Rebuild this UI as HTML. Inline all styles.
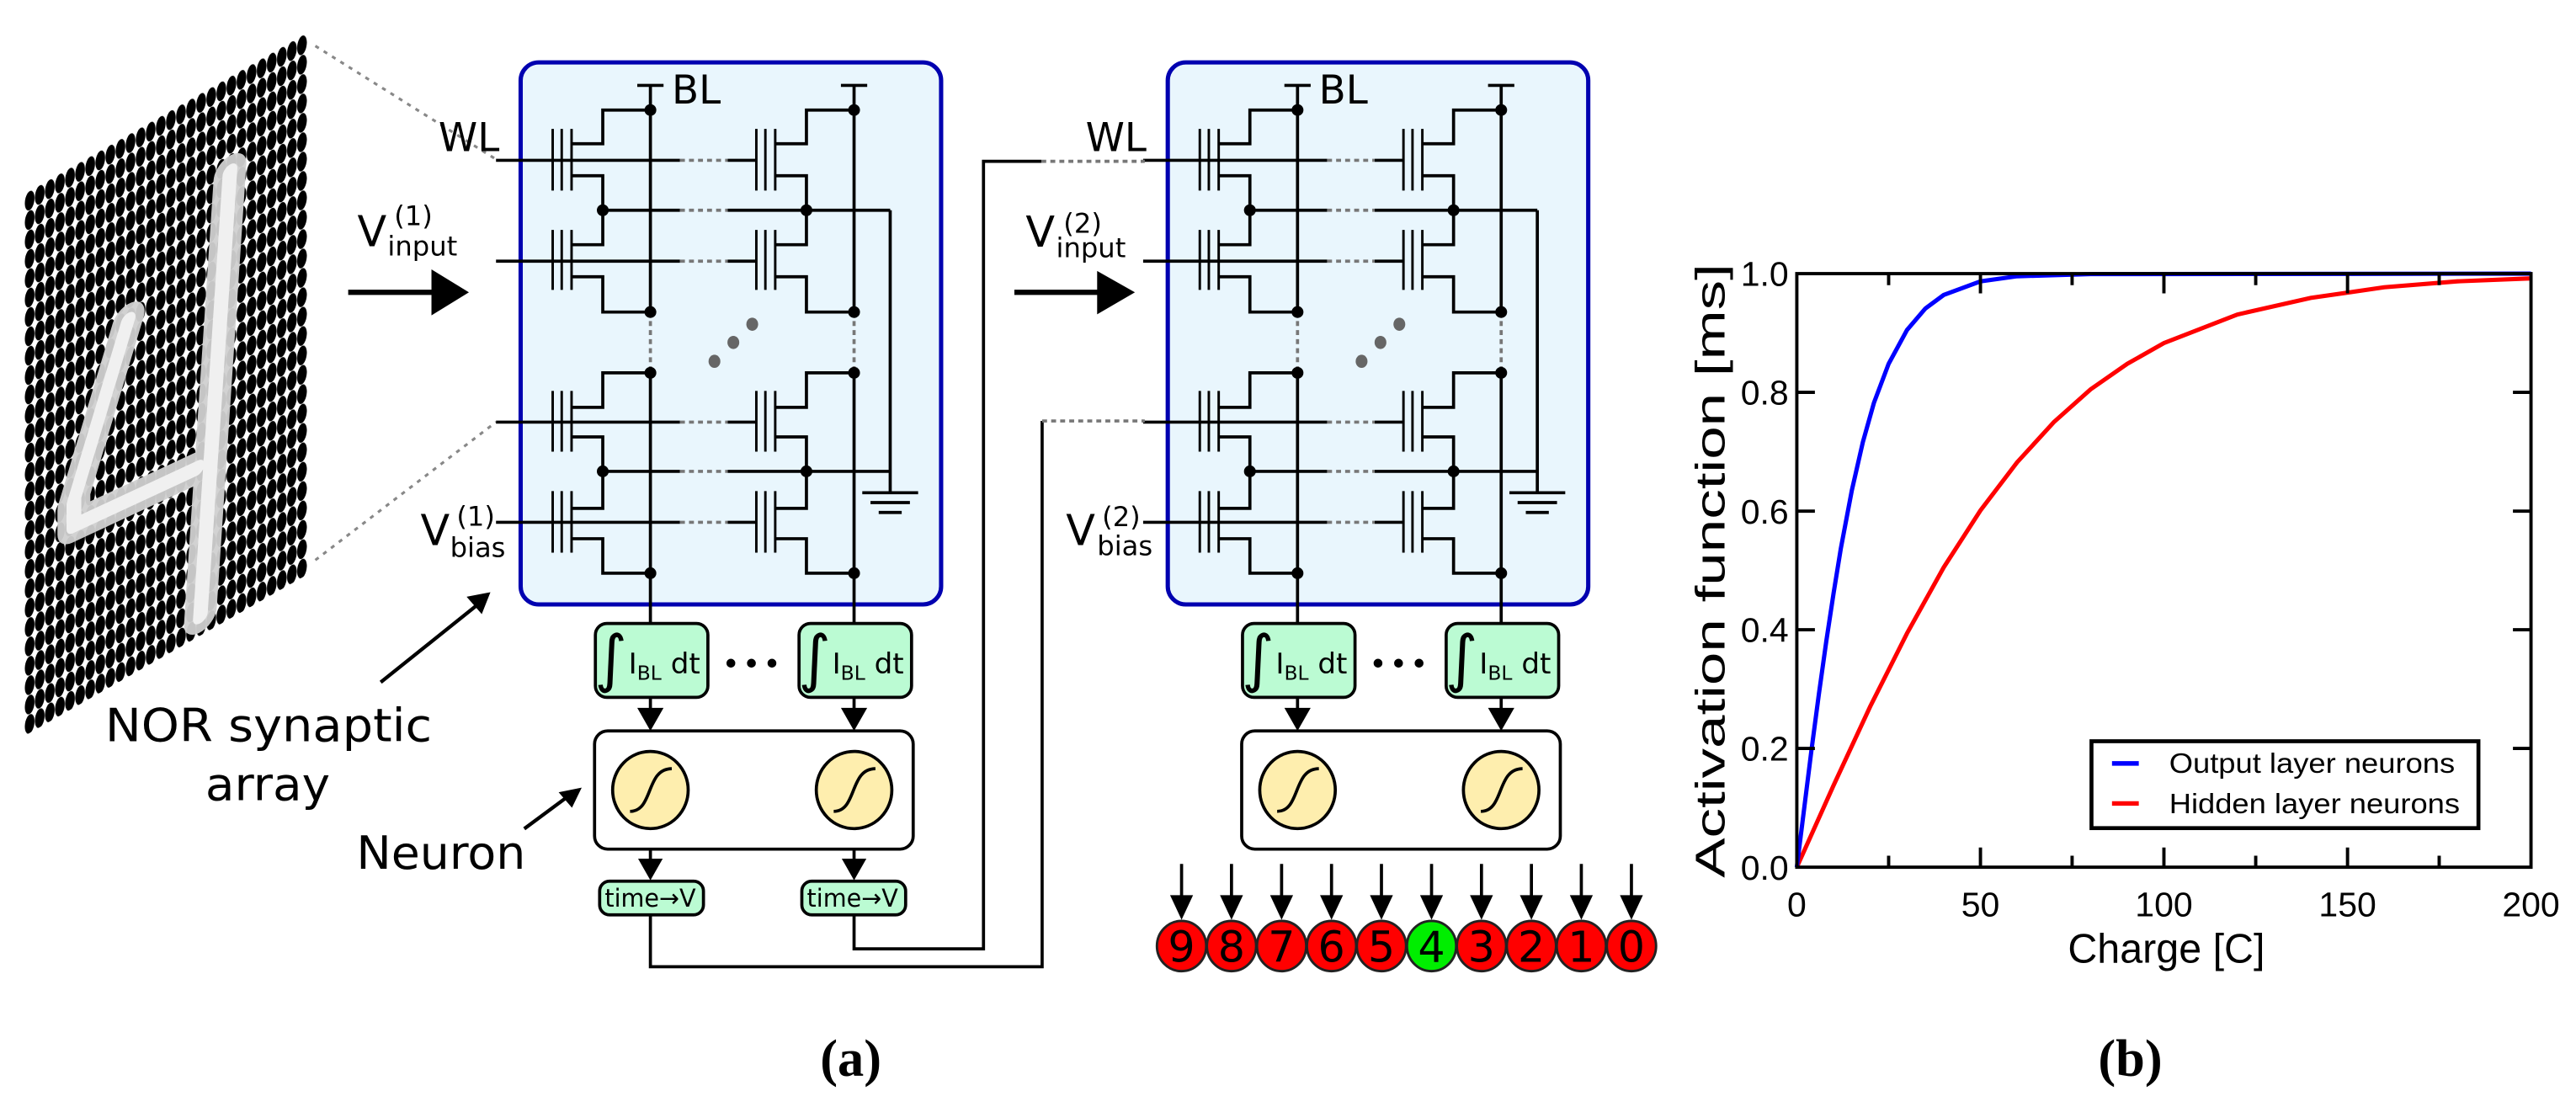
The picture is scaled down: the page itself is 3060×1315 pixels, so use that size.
<!DOCTYPE html>
<html><head><meta charset="utf-8"><style>
html,body{margin:0;padding:0;background:#fff;}
svg{display:block;}
</style></head><body>
<svg xmlns="http://www.w3.org/2000/svg" xmlns:xlink="http://www.w3.org/1999/xlink" width="3060" height="1315" viewBox="0 0 1568.4 674" preserveAspectRatio="none" font-family="'DejaVu Sans','Liberation Sans',sans-serif">
<defs>
<pattern id="px" patternUnits="userSpaceOnUse" width="6.14" height="11.8">
<ellipse cx="3.07" cy="5.9" rx="2.95" ry="5.75" fill="#000"/>
</pattern>
<g id="col">
<path d="M336.5,78.5V116M342,78.5V116M348,78.5V116M336.5,140V176.5M342,140V176.5M348,140V176.5M336.5,238V275M342,238V275M348,238V275M336.5,299V336.5M342,299V336.5M348,299V336.5" stroke="#000" stroke-width="1.5" fill="none"/>
<path d="M348,87.5H367V67H396M348,107H367V128M348,149H367V128M348,168.5H367V190H396M348,248H367V227H396M348,266H367V287M348,309.5H367V287M348,328H367V349H396M388,52H404M396,52V190M396,227V379.6" stroke="#000" stroke-width="1.9" fill="none"/>
<path d="M396,190V227" stroke="#777" stroke-width="1.9" stroke-dasharray="3,2.5" fill="none"/>
<g fill="#000"><circle cx="396" cy="67" r="3.6"/><circle cx="396" cy="190" r="3.6"/><circle cx="396" cy="227" r="3.6"/><circle cx="396" cy="349" r="3.6"/><circle cx="367" cy="128" r="3.6"/><circle cx="367" cy="287" r="3.6"/></g>
</g>
<g id="arr">
<rect x="317" y="38" width="256" height="330" rx="11" fill="#e9f6fd" stroke="#0000b0" stroke-width="2.6"/>
<use xlink:href="#col"/>
<use xlink:href="#col" x="124"/>
<path d="M302,97.6H414M443,97.6H460.5M302,159H414M443,159H460.5M302,257H414M443,257H460.5M302,318H414M443,318H460.5M367,128H414M443,128H542M367,287H414M443,287H542M542,128V300M525,300H559M530,306H554M535,312H549" stroke="#000" stroke-width="1.9" fill="none"/>
<path d="M414,97.6H443M414,159H443M414,257H443M414,318H443M414,128H443M414,287H443" stroke="#777" stroke-width="1.9" stroke-dasharray="3,2.5" fill="none"/>
<g fill="#666"><ellipse cx="435" cy="220" rx="3.6" ry="4"/><ellipse cx="446.5" cy="208.5" rx="3.6" ry="4"/><ellipse cx="458" cy="197.4" rx="3.6" ry="4"/></g>
<rect x="362.5" y="379.6" width="68.5" height="45" rx="7" fill="#bbfbd3" stroke="#000" stroke-width="1.9"/>
<rect x="486.5" y="379.6" width="68.5" height="45" rx="7" fill="#bbfbd3" stroke="#000" stroke-width="1.9"/>
<text x="362" y="414" font-size="38">∫</text>
<text x="382.7" y="410" font-size="17.5">I<tspan font-size="12" dy="4">BL</tspan><tspan dy="-4"> dt</tspan></text>
<text x="486" y="414" font-size="38">∫</text>
<text x="506.7" y="410" font-size="17.5">I<tspan font-size="12" dy="4">BL</tspan><tspan dy="-4"> dt</tspan></text>
<g fill="#000"><circle cx="445" cy="403.8" r="2.7"/><circle cx="457.5" cy="403.8" r="2.7"/><circle cx="470" cy="403.8" r="2.7"/><circle cx="445" cy="481" r="2.7"/><circle cx="457.5" cy="481" r="2.7"/><circle cx="470" cy="481" r="2.7"/></g>
<path d="M396,424.6V433M520,424.6V433" stroke="#000" stroke-width="1.9"/>
<path d="M388,431L404,431L396,445ZM512,431L528,431L520,445Z" fill="#000"/>
<rect x="362" y="445" width="194" height="72" rx="8" fill="#fff" stroke="#000" stroke-width="1.9"/>
<ellipse cx="396" cy="481" rx="23" ry="23.5" fill="#feeeae" stroke="#000" stroke-width="1.9"/>
<ellipse cx="520" cy="481" rx="23" ry="23.5" fill="#feeeae" stroke="#000" stroke-width="1.9"/>
<path d="M383.6,494C398,494 393,468 409,468M507.6,494C522,494 517,468 533,468" stroke="#000" stroke-width="1.9" fill="none"/>
</g>
</defs>

<g transform="translate(15,118) skewY(-29.7)">
<rect x="0" y="0" width="172" height="330" fill="url(#px)"/>
<path d="M63,113L30,204L30,219L105,227M125,58L107,318" stroke="#d0d0d0" stroke-width="20" fill="none" stroke-linecap="round" stroke-linejoin="round" opacity="0.95"/>
<path d="M63,113L30,204L30,219L105,227M125,58L107,318" stroke="#f0f0f0" stroke-width="9" fill="none" stroke-linecap="round" stroke-linejoin="round"/>
</g>
<path d="M192,28L302,97M192,341L302,257" stroke="#888" stroke-width="1.6" stroke-dasharray="2.5,3.5" fill="none"/>

<use xlink:href="#arr"/>
<use xlink:href="#arr" x="394"/>

<text x="409" y="63" font-size="24">BL</text>
<text x="267" y="92" font-size="24">WL</text>
<text x="217.6" y="150" font-size="26">V</text>
<text x="240" y="137" font-size="16.5">(1)</text>
<text x="236" y="155.5" font-size="16.5">input</text>
<path d="M212,178H264" stroke="#000" stroke-width="3.2"/>
<path d="M262.7,164L285.5,178L262.7,192Z" fill="#000"/>
<text x="256" y="332" font-size="26">V</text>
<text x="278" y="320" font-size="16.5">(1)</text>
<text x="274" y="339" font-size="16.5">bias</text>

<text x="803" y="63" font-size="24">BL</text>
<text x="661" y="92" font-size="24">WL</text>
<text x="624.5" y="150.3" font-size="26">V</text>
<text x="647.5" y="141.6" font-size="16.5">(2)</text>
<text x="643" y="156.5" font-size="16.5">input</text>
<path d="M617.6,178H669" stroke="#000" stroke-width="3.2"/>
<path d="M668,165L691,178L668,191.4Z" fill="#000"/>
<text x="649" y="332" font-size="26">V</text>
<text x="671" y="320.4" font-size="16.5">(2)</text>
<text x="668" y="338" font-size="16.5">bias</text>

<text x="64" y="451.4" font-size="28" textLength="199" lengthAdjust="spacingAndGlyphs">NOR synaptic</text>
<text x="125" y="487.3" font-size="28" textLength="76" lengthAdjust="spacingAndGlyphs">array</text>
<text x="217" y="529" font-size="28" textLength="103" lengthAdjust="spacingAndGlyphs">Neuron</text>
<path d="M231.8,415.4L291,368M319.2,504.6L347,484" stroke="#000" stroke-width="2.2"/>
<path d="M297,361.9L286,364L293,372Z" fill="#000" stroke="#000" stroke-width="2"/>
<path d="M352.4,480.9L342,483L348,490Z" fill="#000" stroke="#000" stroke-width="2"/>

<path d="M396,517V524M520,517V524" stroke="#000" stroke-width="1.9"/>
<path d="M388.5,522.8L403.5,522.8L396,536ZM512.5,522.8L527.5,522.8L520,536Z" fill="#000"/>
<rect x="365.1" y="536.5" width="63.2" height="20.5" rx="6" fill="#bbfbd3" stroke="#000" stroke-width="1.9"/>
<rect x="488.2" y="536.5" width="63.2" height="20.5" rx="6" fill="#bbfbd3" stroke="#000" stroke-width="1.9"/>
<text x="368.2" y="551.9" font-size="15" textLength="55.5" lengthAdjust="spacingAndGlyphs">time→V</text>
<text x="491.3" y="551.9" font-size="15" textLength="55.5" lengthAdjust="spacingAndGlyphs">time→V</text>
<path d="M396,557V588.6H634.5V256.3M520,557V577.7H598.8V98.2H634" stroke="#000" stroke-width="1.9" fill="none"/>
<path d="M634,98.2H697M634.5,256.3H697" stroke="#777" stroke-width="1.9" stroke-dasharray="3,2.5" fill="none"/>

<g font-size="26" text-anchor="middle">
<path d="M719.4,526V548M749.8,526V548M780.3,526V548M810.7,526V548M841.1,526V548M871.6,526V548M902,526V548M932.4,526V548M962.8,526V548M993.3,526V548" stroke="#000" stroke-width="1.9"/>
<path d="M712.4,545H726.4L719.4,560ZM742.8,545H756.8L749.8,560ZM773.3,545H787.3L780.3,560ZM803.7,545H817.7L810.7,560ZM834.1,545H848.1L841.1,560ZM864.6,545H878.6L871.6,560ZM895,545H909L902,560ZM925.4,545H939.4L932.4,560ZM955.8,545H969.8L962.8,560ZM986.3,545H1000.3L993.3,560Z" fill="#000"/>
<g stroke="#222" stroke-width="1.5">
<ellipse cx="719.4" cy="576" rx="15" ry="15.3" fill="#ff0000"/>
<ellipse cx="749.8" cy="576" rx="15" ry="15.3" fill="#ff0000"/>
<ellipse cx="780.3" cy="576" rx="15" ry="15.3" fill="#ff0000"/>
<ellipse cx="810.7" cy="576" rx="15" ry="15.3" fill="#ff0000"/>
<ellipse cx="841.1" cy="576" rx="15" ry="15.3" fill="#ff0000"/>
<ellipse cx="871.6" cy="576" rx="15" ry="15.3" fill="#00ee00"/>
<ellipse cx="902" cy="576" rx="15" ry="15.3" fill="#ff0000"/>
<ellipse cx="932.4" cy="576" rx="15" ry="15.3" fill="#ff0000"/>
<ellipse cx="962.8" cy="576" rx="15" ry="15.3" fill="#ff0000"/>
<ellipse cx="993.3" cy="576" rx="15" ry="15.3" fill="#ff0000"/>
</g>
<text x="719.4" y="585.6">9</text><text x="749.8" y="585.6">8</text><text x="780.3" y="585.6">7</text><text x="810.7" y="585.6">6</text><text x="841.1" y="585.6">5</text><text x="871.6" y="585.6">4</text><text x="902" y="585.6">3</text><text x="932.4" y="585.6">2</text><text x="962.8" y="585.6">1</text><text x="993.3" y="585.6">0</text>
</g>

<text x="518" y="655" font-size="32" font-weight="bold" font-family="'Liberation Serif',serif" text-anchor="middle">(a)</text>
<text x="1297" y="655" font-size="32" font-weight="bold" font-family="'Liberation Serif',serif" text-anchor="middle">(b)</text>

<g font-family="'Liberation Sans',sans-serif">
<polyline fill="none" stroke="#ff0000" stroke-width="2.6" points="1094,528 1116.4,478.1 1138.7,430.1 1161.1,385.6 1183.4,345.5 1205.8,310.8 1228.1,281.5 1250.5,257 1272.8,237.1 1295.2,221.5 1317.5,208.9 1362.2,191.5 1406.9,181.4 1451.6,174.9 1496.3,171.3 1541,169.5"/>
<polyline fill="none" stroke="#0000ff" stroke-width="2.6" points="1094,528 1098.5,492 1102.9,456.8 1107.4,422.8 1111.9,390.7 1116.4,361 1120.8,333.9 1127.5,298.5 1134.2,269.2 1140.9,245.4 1149.9,221.5 1161.1,200.9 1172.2,187.9 1183.4,179.6 1205.8,171.3 1228.1,168.2 1272.8,166.9 1541,166.6"/>
<rect x="1094" y="166.6" width="447" height="361.4" fill="none" stroke="#000" stroke-width="2"/>
<path d="M1149.9,528v-7M1261.6,528v-7M1373.4,528v-7M1485.1,528v-7M1149.9,166.6v7M1261.6,166.6v7M1373.4,166.6v7M1485.1,166.6v7M1205.8,528v-12M1317.5,528v-12M1429.3,528v-12M1205.8,166.6v12M1317.5,166.6v12M1429.3,166.6v12M1094,455.7h11M1094,383.4h11M1094,311.2h11M1094,238.9h11M1541,455.7h-11M1541,383.4h-11M1541,311.2h-11M1541,238.9h-11" stroke="#000" stroke-width="2"/>
<g font-size="21" text-anchor="middle">
<text x="1094" y="558">0</text><text x="1205.8" y="558">50</text><text x="1317.5" y="558">100</text><text x="1429.3" y="558">150</text><text x="1541" y="558">200</text>
</g>
<g font-size="21" text-anchor="end">
<text x="1089" y="535.5">0.0</text><text x="1089" y="463.2">0.2</text><text x="1089" y="390.9">0.4</text><text x="1089" y="318.7">0.6</text><text x="1089" y="246.4">0.8</text><text x="1089" y="174.1">1.0</text>
</g>
<text x="1259" y="586" font-size="25" textLength="120" lengthAdjust="spacingAndGlyphs">Charge [C]</text>
<text transform="translate(1050,347.5) rotate(-90)" font-size="25" text-anchor="middle" textLength="374" lengthAdjust="spacingAndGlyphs">Activation function [ms]</text>
<rect x="1273.4" y="451.3" width="235.6" height="52.9" fill="#fff" stroke="#000" stroke-width="2.4"/>
<path d="M1285.9,464.8H1302.2" stroke="#0000ff" stroke-width="2.8"/>
<path d="M1285.9,489.2H1302.2" stroke="#ff0000" stroke-width="2.8"/>
<text x="1320.7" y="470.5" font-size="17" textLength="174" lengthAdjust="spacingAndGlyphs">Output layer neurons</text>
<text x="1320.7" y="495" font-size="17" textLength="177" lengthAdjust="spacingAndGlyphs">Hidden layer neurons</text>
</g>
</svg>
</body></html>
